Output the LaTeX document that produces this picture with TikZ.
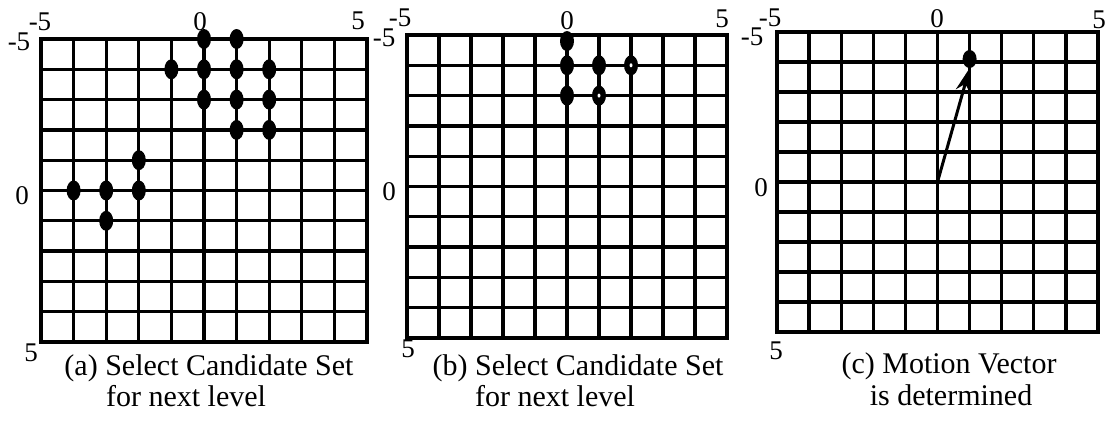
\documentclass[tikz,border=0pt]{standalone}
\usepackage{fontspec}
\setmainfont{Liberation Serif}
\usetikzlibrary{shapes.geometric,arrows.meta}
\tikzset{
  gridline/.style={line width=3.3pt, line cap=rect},
  dotnode/.style={ellipse, fill=black, inner sep=0pt, minimum width=14pt, minimum height=20pt},
  spotnode/.style={ellipse, fill=white, inner sep=0pt, minimum width=3pt, minimum height=4pt},
  axislbl/.style={font=\fontsize{27}{27}\selectfont, inner sep=0pt},
  captxt/.style={font=\fontsize{30}{30}\selectfont, inner sep=0pt, anchor=base},
  vecarrow/.style={line width=3pt, -{Stealth[length=24pt,width=15pt]}},
}
\begin{document}
\begin{tikzpicture}[x=1pt,y=-1pt]
\useasboundingbox (0,0) rectangle (1107,423);
% ---------- panel (a)
\begin{scope}[shift={(204,190.5)}, x=32.6pt, y=-30.3pt]
  \foreach \i in {-5,...,5} {
    \draw[gridline] (\i,-5) -- (\i,5);
    \draw[gridline] (-5,\i) -- (5,\i);
  }
  \foreach \px/\py [count=\k] in {0/-5,1/-5,-1/-4,0/-4,1/-4,2/-4,0/-3,1/-3,2/-3,1/-2,2/-2,-2/-1,-4/0,-3/0,-2/0,-3/1}
    \node[dotnode] (adot\k) at (\px,\py) {};
\end{scope}
\node[axislbl] (axm) at (40,22) {-5};
\node[axislbl] (aym) at (19,42) {-5};
\node[axislbl] (axz) at (200,22) {0};
\node[axislbl] (axp) at (358,21) {5};
\node[axislbl] (ayz) at (22,196) {0};
\node[axislbl] (ayp) at (31,353) {5};
\node[captxt] (capa1) at (209,375) {(a) Select Candidate Set};
\node[captxt] (capa2) at (186,406) {for next level};
% ---------- panel (b)
\begin{scope}[shift={(567,186.5)}, x=32pt, y=-30.3pt]
  \foreach \i in {-5,...,5} {
    \draw[gridline] (\i,-5) -- (\i,5);
    \draw[gridline] (-5,\i) -- (5,\i);
  }
  \foreach \px/\py [count=\k] in {0/-4.8,0/-4,1/-4,2/-4,0/-3,1/-3}
    \node[dotnode] (bdot\k) at (\px,\py) {};
  \node[spotnode] (bspot1) at (bdot4) {};
  \node[spotnode] (bspot2) at (bdot6) {};
\end{scope}
\node[axislbl] (bxm) at (400,18) {-5};
\node[axislbl] (bym) at (384,38) {-5};
\node[axislbl] (bxz) at (567,21) {0};
\node[axislbl] (bxp) at (722,19) {5};
\node[axislbl] (byz) at (389,192) {0};
\node[axislbl] (byp) at (408,349) {5};
\node[captxt] (capb1) at (578,375) {(b) Select Candidate Set};
\node[captxt] (capb2) at (555,406) {for next level};
% ---------- panel (c)
\begin{scope}[shift={(937.5,182)}, x=32.1pt, y=-30pt]
  \foreach \i in {-5,...,5} {
    \draw[gridline] (\i,-5) -- (\i,5);
    \draw[gridline] (-5,\i) -- (5,\i);
  }
  \coordinate (corig) at (0,0);
  \node[dotnode, minimum width=14pt, minimum height=18pt] (cdot) at (1,-4.1) {};
  \draw[vecarrow] (corig) -- (cdot.south);
\end{scope}
\node[axislbl] (cxm) at (770,18) {-5};
\node[axislbl] (cym) at (752,37) {-5};
\node[axislbl] (cxz) at (937,19) {0};
\node[axislbl] (cxp) at (1099,20) {5};
\node[axislbl] (cyz) at (761,188) {0};
\node[axislbl] (cyp) at (776,351) {5};
\node[captxt] (capc1) at (949,373) {(c) Motion Vector};
\node[captxt] (capc2) at (951,405) {is determined};
\end{tikzpicture}
\end{document}
